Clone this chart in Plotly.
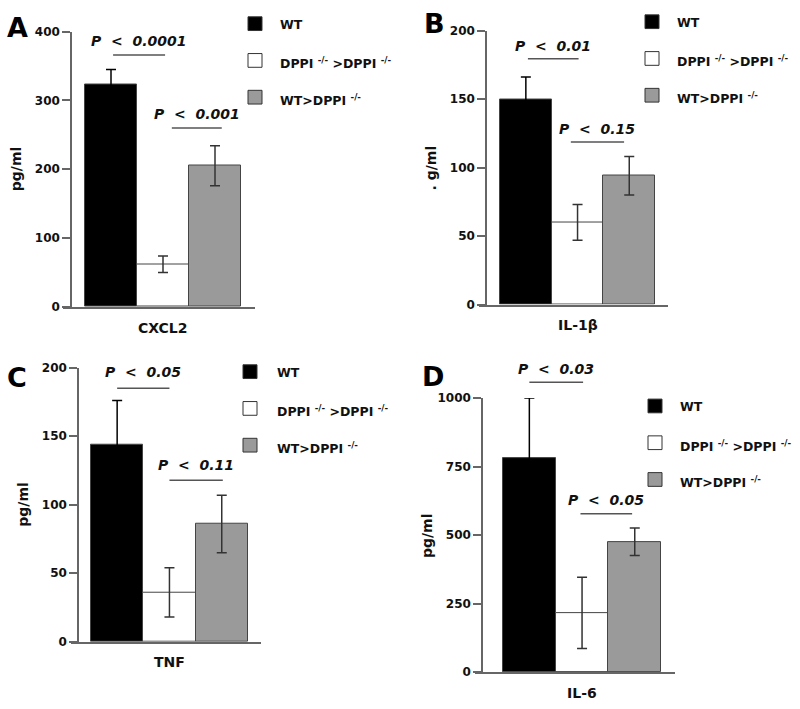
import plotly.graph_objects as go

# ---------------- data ----------------
groups = ["WT", "DPPI <sup>-/-</sup> >DPPI <sup>-/-</sup>", "WT>DPPI <sup>-/-</sup>"]
cytokines = ["CXCL2", "IL-1β", "TNF", "IL-6"]
y_titles = ["pg/ml", ". g/ml", "pg/ml", "pg/ml"]
panel_letters = ["A", "B", "C", "D"]

cxcl2_mean = [323, 62, 205]
cxcl2_err = [22, 12, 29]
il1b_mean = [150, 60, 94]
il1b_err = [16, 13, 14]
tnf_mean = [144, 36, 86]
tnf_err = [32, 18, 21]
il6_mean = [782, 216, 476]
il6_err = [218, 130, 50]

y_max = [400, 200, 200, 1000]
y_step = [100, 50, 50, 250]

p_labels = [["P < 0.0001", "P < 0.001"],
            ["P < 0.01", "P < 0.15"],
            ["P < 0.05", "P < 0.11"],
            ["P < 0.03", "P < 0.05"]]

means = [cxcl2_mean, il1b_mean, tnf_mean, il6_mean]
errs = [cxcl2_err, il1b_err, tnf_err, il6_err]

# ---------------- layout geometry (pixels) ----------------
W, H = 800, 709
geom = [
    dict(yx=71, y0=306, y1=25, xd0=63, xd1=255, b0=85, bw=52),
    dict(yx=486, y0=303.5, y1=24, xd0=479, xd1=668, b0=500, bw=51.7),
    dict(yx=78, y0=647.5, y1=368, xd0=71, xd1=261, b0=91, bw=52.3),
    dict(yx=482, y0=678.5, y1=399, xd0=475, xd1=675, b0=503, bw=52.7),
]
# P bracket spans (bar-index units) and heights (fraction of y-axis domain)
p_geom = [
    [dict(x=(0.04, 1.04), ly=0.915, ty=0.965), dict(x=(1.17, 2.13), ly=0.65, ty=0.70)],
    [dict(x=(0.04, 1.02), ly=0.897, ty=0.945), dict(x=(0.87, 1.9), ly=0.593, ty=0.64)],
    [dict(x=(0.0, 1.0), ly=0.925, ty=0.985), dict(x=(1.0, 2.02), ly=0.589, ty=0.645)],
    [dict(x=(0.0, 1.02), ly=1.058, ty=1.105), dict(x=(0.97, 1.95), ly=0.578, ty=0.628)],
]
leg = [
    dict(x=248, y=17, dy=37.5, tx=278),
    dict(x=645, y=15, dy=37.5, tx=675),
    dict(x=243, y=372, dy=37.5, tx=275),
    dict(x=648, y=407, dy=37.5, tx=678),
]
letter_pos = [(5, 21), (422, 17), (5, 378), (420, 377)]

FONT = "DejaVu Sans, Liberation Sans, Arial"
fills = ["#000000", "#ffffff", "#9a9a9a"]
err_colors = ["#000000", "#333333", "#333333"]
AX = "#666666"


def px(x):
    return x / W


def py(y):
    return 1 - y / H


fig = go.Figure()
shapes = []
annotations = []

for i in range(4):
    g = geom[i]
    sfx = "" if i == 0 else str(i + 1)
    xa, ya = "x" + sfx, "y" + sfx
    xr0 = -0.5 - (g["b0"] - g["xd0"]) / g["bw"]
    xr1 = xr0 + (g["xd1"] - g["xd0"]) / g["bw"]

    for k in range(3):
        fig.add_trace(go.Bar(
            x=[k], y=[means[i][k]], width=1, name=groups[k],
            marker=dict(color=fills[k], line=dict(color="#444444", width=1)),
            error_y=dict(type="data", array=[errs[i][k]], visible=True,
                         color=err_colors[k], thickness=1.5, width=5),
            cliponaxis=False, showlegend=False, hoverinfo="skip",
            xaxis=xa, yaxis=ya,
        ))

    for k in range(2):
        pg = p_geom[i][k]
        shapes.append(dict(
            type="line", xref=xa, yref=ya + " domain",
            x0=pg["x"][0], x1=pg["x"][1], y0=pg["ly"], y1=pg["ly"],
            line=dict(color="#555555", width=1.5),
        ))
        txt = p_labels[i][k].replace(" ", "\u00a0\u00a0")
        annotations.append(dict(
            x=sum(pg["x"]) / 2, y=pg["ty"], xref=xa, yref=ya + " domain",
            text="<b><i>" + txt + "</i></b>", showarrow=False,
            font=dict(family=FONT, size=14, color="#111111"),
            xanchor="center", yanchor="middle",
        ))

    fig.update_layout(**{
        "xaxis" + sfx: dict(
            domain=[px(g["xd0"]), px(g["xd1"])], range=[xr0, xr1],
            anchor=ya, showgrid=False, zeroline=False, showticklabels=False,
            ticks="", showline=True, linecolor=AX, linewidth=1.5, fixedrange=True,
        ),
        "yaxis" + sfx: dict(
            domain=[py(g["y0"]), py(g["y1"])], range=[0, y_max[i]],
            anchor="free", position=px(g["yx"]), showgrid=False, zeroline=False,
            tickmode="linear", tick0=0, dtick=y_step[i],
            ticks="outside", ticklen=8, tickwidth=1.5, tickcolor=AX,
            showline=True, linecolor=AX, linewidth=1.5,
            tickfont=dict(family=FONT, size=12, color="#111111", weight="bold"),
            fixedrange=True,
        ),
    })

    annotations.append(dict(
        x=px((g["b0"] + g["b0"] + 3 * g["bw"]) / 2), y=py(g["y0"] + 21),
        xref="paper", yref="paper", text="<b>" + cytokines[i] + "</b>",
        showarrow=False, font=dict(family=FONT, size=14, color="#111111"),
        xanchor="center", yanchor="middle",
    ))
    annotations.append(dict(
        x=px(g["yx"] - 55), y=py((g["y0"] + g["y1"]) / 2),
        xref="paper", yref="paper", text="<b>" + y_titles[i] + "</b>",
        textangle=-90, showarrow=False,
        font=dict(family=FONT, size=14, color="#111111"),
        xanchor="center", yanchor="middle",
    ))
    lx, ly = letter_pos[i]
    annotations.append(dict(
        x=px(lx), y=py(ly), xref="paper", yref="paper",
        text="<b>" + panel_letters[i] + "</b>", showarrow=False,
        font=dict(family=FONT, size=27, color="#000000"),
        xanchor="left", yanchor="middle",
    ))
    L = leg[i]
    for k in range(3):
        cy = L["y"] + k * L["dy"]
        shapes.append(dict(
            type="rect", xref="paper", yref="paper",
            x0=px(L["x"]), x1=px(L["x"] + 14), y0=py(cy - 7), y1=py(cy + 7),
            fillcolor=fills[k], line=dict(color="#333333", width=1),
        ))
        annotations.append(dict(
            x=px(L["tx"]), y=py(cy + (3 if k > 0 else 1)), xref="paper", yref="paper",
            text="<b>" + groups[k] + "</b>", showarrow=False,
            font=dict(family=FONT, size=12.5, color="#111111"),
            xanchor="left", yanchor="middle",
        ))

fig.update_layout(
    width=W, height=H, margin=dict(l=0, r=0, t=0, b=0),
    paper_bgcolor="white", plot_bgcolor="white",
    bargap=0, barmode="overlay", shapes=shapes, annotations=annotations,
    showlegend=False,
)

fig.write_html("out.html", config={"displayModeBar": False},
               post_script="document.body.style.margin='0px';document.body.style.padding='0px';")
